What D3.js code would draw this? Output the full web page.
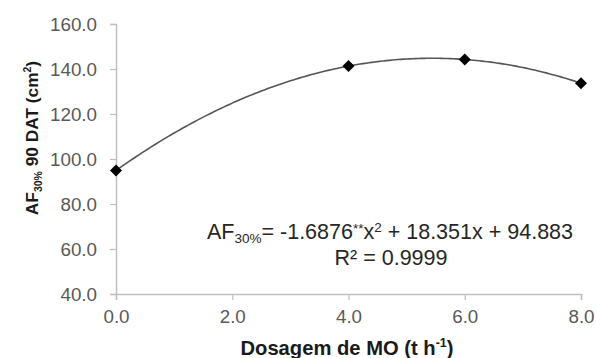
<!DOCTYPE html>
<html>
<head>
<meta charset="utf-8">
<script src="https://cdn.jsdelivr.net/npm/d3@7"></script>
<style>
  html, body { margin: 0; padding: 0; background: #fff; }
  svg { display: block; font-family: "Liberation Sans", Arial, sans-serif; }
</style>
</head>
<body>
<svg id="chart" width="596" height="358"></svg>
<script>
// Leaf area (AF30%) at 90 DAT for each organic matter dose
const doses = [0, 4, 6, 8];
const leafArea = [94.9, 141.3, 144.2, 133.7];
const xTicks = [0, 2, 4, 6, 8];
const yTicks = [40, 60, 80, 100, 120, 140, 160];
// Quadratic trendline coefficients: a·x² + b·x + c
const trendCoef = [-1.6876, 18.351, 94.883];

const svg = d3.select("#chart");
const plot = { left: 116, right: 581, top: 24, bottom: 294 };

const x = d3.scaleLinear().domain([0, 8]).range([plot.left, plot.right]);
const y = d3.scaleLinear().domain([40, 160]).range([plot.bottom, plot.top]);

const axisColor = "#bfbfbf";
const tickText = "#595959";
const tickFont = 18.8;

// Y axis
const yAxis = svg.append("g")
  .attr("transform", `translate(${plot.left},0)`)
  .call(d3.axisLeft(y).tickValues(yTicks).tickFormat(d3.format(".1f")).tickSize(6).tickPadding(13));
yAxis.select(".domain").attr("stroke", axisColor).attr("stroke-width", 1.5);
yAxis.selectAll(".tick line").attr("stroke", axisColor).attr("stroke-width", 1.2);
yAxis.selectAll(".tick text").attr("fill", tickText).attr("font-size", tickFont)
  .attr("font-family", "'Liberation Sans', Arial, sans-serif");

// X axis
const xAxis = svg.append("g")
  .attr("transform", `translate(0,${plot.bottom})`)
  .call(d3.axisBottom(x).tickValues(xTicks).tickFormat(d3.format(".1f")).tickSize(6).tickPadding(10));
xAxis.select(".domain").attr("stroke", axisColor).attr("stroke-width", 1.5);
xAxis.selectAll(".tick line").attr("stroke", axisColor).attr("stroke-width", 1.2);
xAxis.selectAll(".tick text").attr("fill", tickText).attr("font-size", tickFont)
  .attr("font-family", "'Liberation Sans', Arial, sans-serif");

// Trendline
const trend = d3.range(0, 8.0001, 0.05).map(v => [v, trendCoef[0]*v*v + trendCoef[1]*v + trendCoef[2]]);
svg.append("path")
  .datum(trend)
  .attr("fill", "none")
  .attr("stroke", "#555")
  .attr("stroke-width", 1.6)
  .attr("d", d3.line().x(d => x(d[0])).y(d => y(d[1])));

// Diamond markers
svg.append("g").selectAll("path")
  .data(doses.map((d, i) => [d, leafArea[i]]))
  .join("path")
  .attr("transform", d => `translate(${x(d[0])},${y(d[1])})`)
  .attr("d", "M0,-6L6,0L0,6L-6,0Z")
  .attr("fill", "#000");

// Equation
const eq = svg.append("text")
  .attr("x", 390).attr("y", 239)
  .attr("text-anchor", "middle")
  .attr("font-size", 21.5)
  .attr("fill", "#262626");
eq.append("tspan").text("AF");
eq.append("tspan").attr("font-size", 13.5).attr("dy", 4).text("30%");
eq.append("tspan").attr("dy", -4).text("= -1.6876");
eq.append("tspan").attr("font-size", 13.5).attr("dy", -6).text("**");
eq.append("tspan").attr("dy", 6).text("x");
eq.append("tspan").attr("font-size", 13.5).attr("dy", -7).text("2");
eq.append("tspan").attr("dy", 7).text(" + 18.351x + 94.883");

svg.append("text")
  .attr("x", 391).attr("y", 265)
  .attr("text-anchor", "middle")
  .attr("font-size", 21.5)
  .attr("fill", "#262626")
  .text("R² = 0.9999");

// X axis title
const xt = svg.append("text")
  .attr("x", 347).attr("y", 355)
  .attr("text-anchor", "middle")
  .attr("font-size", 20.2)
  .attr("font-weight", "bold")
  .attr("fill", "#1a1a1a");
xt.append("tspan").text("Dosagem de MO (t h");
xt.append("tspan").attr("font-size", 12.5).attr("dy", -8).text("-1");
xt.append("tspan").attr("dy", 8).text(")");

// Y axis title
const yt = svg.append("text")
  .attr("transform", "translate(38,138) rotate(-90)")
  .attr("text-anchor", "middle")
  .attr("font-size", 17.3)
  .attr("font-weight", "bold")
  .attr("fill", "#1a1a1a");
yt.append("tspan").text("AF");
yt.append("tspan").attr("font-size", 10.5).attr("dy", 4).text("30%");
yt.append("tspan").attr("dy", -4).text(" 90 DAT (cm");
yt.append("tspan").attr("font-size", 10.5).attr("dy", -7).text("2");
yt.append("tspan").attr("dy", 7).text(")");
</script>
</body>
</html>
